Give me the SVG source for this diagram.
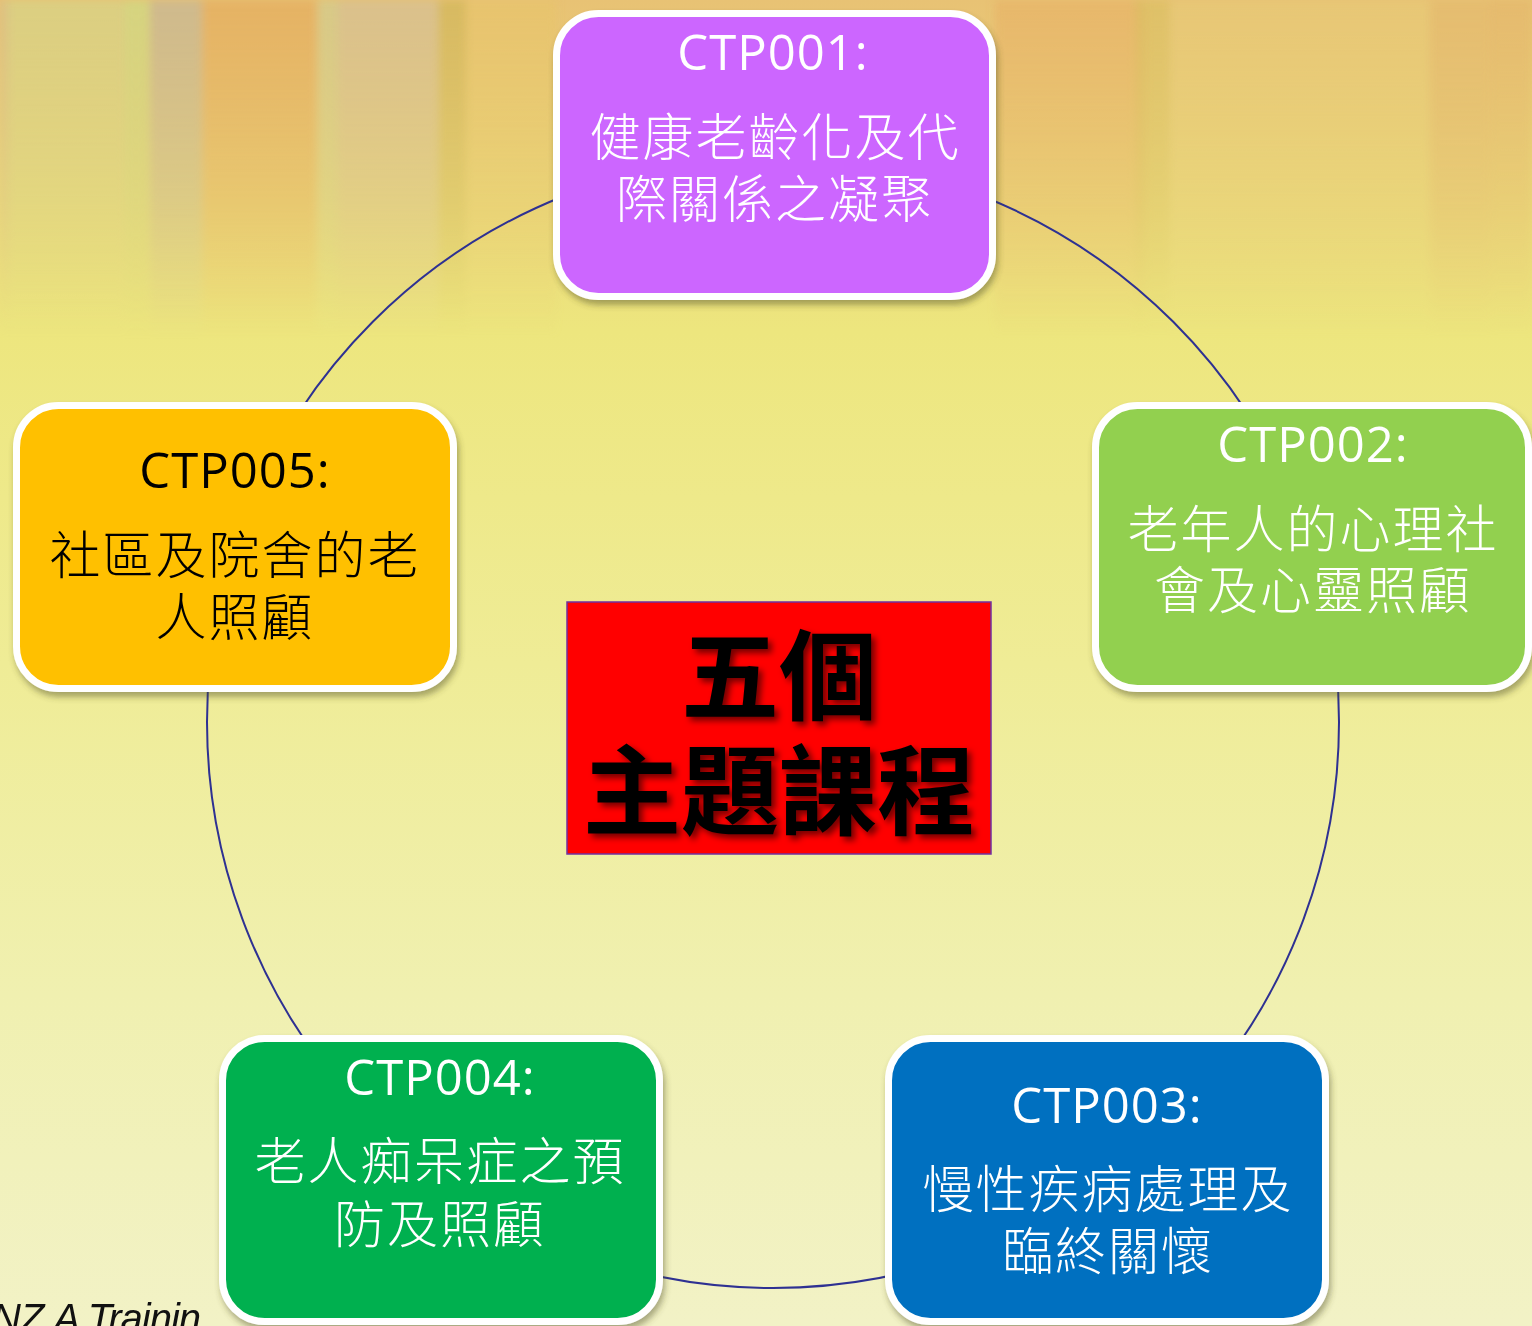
<svg xmlns="http://www.w3.org/2000/svg" width="1532" height="1326" viewBox="0 0 1532 1326">
<defs>
<linearGradient id="bg" x1="0" y1="0" x2="0" y2="1">
<stop offset="0" stop-color="#E8C274"/>
<stop offset="0.12" stop-color="#EAD47A"/>
<stop offset="0.25" stop-color="#EDE67E"/>
<stop offset="0.5" stop-color="#EFEC96"/>
<stop offset="0.75" stop-color="#F0F0B0"/>
<stop offset="1" stop-color="#F2F2C6"/>
</linearGradient>
<linearGradient id="fade" x1="0" y1="0" x2="0" y2="1">
<stop offset="0" stop-color="#fff" stop-opacity="1"/>
<stop offset="0.6" stop-color="#fff" stop-opacity="0.5"/>
<stop offset="1" stop-color="#fff" stop-opacity="0"/>
</linearGradient>
<mask id="fm"><rect x="0" y="0" width="1532" height="340" fill="url(#fade)"/></mask>
<filter id="sh" x="-10%" y="-10%" width="120%" height="125%">
<feDropShadow dx="2" dy="5" stdDeviation="3" flood-color="#4a4a20" flood-opacity="0.45"/>
</filter>
<filter id="tsh" x="-10%" y="-10%" width="125%" height="125%">
<feDropShadow dx="4" dy="4" stdDeviation="3" flood-color="#000" flood-opacity="0.55"/>
</filter>
<filter id="blur"><feGaussianBlur stdDeviation="4"/></filter>
</defs>
<style>
.box{stroke:#fff;stroke-width:7;filter:url(#sh)}
.code{font-family:"Open Sans","Noto Sans",sans-serif;font-weight:400;font-size:49px;text-anchor:middle;letter-spacing:1px}
.zh{font-family:"Noto Sans CJK TC","Noto Sans CJK SC",sans-serif;font-weight:300;font-size:51px;text-anchor:middle;letter-spacing:2px}
.w{fill:#fff}
.k{fill:#000}
.title{font-family:"Noto Sans CJK TC","Noto Sans CJK SC",serif;font-weight:700;font-size:98px;text-anchor:middle;fill:#000;filter:url(#tsh)}
.conn{fill:none;stroke:#2E3192;stroke-width:2}
</style>

<!-- background -->
<rect x="0" y="0" width="1532" height="1326" fill="url(#bg)"/>
<g mask="url(#fm)" filter="url(#blur)">
<rect x="0" y="0" width="8" height="340" fill="#D8C08A" opacity="0.8"/>
<rect x="8" y="0" width="140" height="340" fill="#D6D488" opacity="0.7"/>
<rect x="125" y="0" width="25" height="340" fill="#D2D880" opacity="0.6"/>
<rect x="150" y="0" width="52" height="340" fill="#C8B894" opacity="0.8"/>
<rect x="202" y="0" width="115" height="340" fill="#E4AE60" opacity="0.75"/>
<rect x="318" y="0" width="20" height="340" fill="#D0CC90" opacity="0.7"/>
<rect x="338" y="0" width="100" height="340" fill="#D6C094" opacity="0.75"/>
<rect x="438" y="0" width="28" height="340" fill="#D0B658" opacity="0.7"/>
<rect x="466" y="0" width="90" height="340" fill="#E8C46A" opacity="0.6"/>
<rect x="995" y="0" width="150" height="340" fill="#E8B066" opacity="0.6"/>
<rect x="1135" y="0" width="35" height="340" fill="#D8C060" opacity="0.6"/>
<rect x="1170" y="0" width="320" height="340" fill="#E8CC78" opacity="0.5"/>
<rect x="1430" y="0" width="102" height="340" fill="#E4B46A" opacity="0.55"/>
</g>

<!-- background caption -->
<text x="-8" y="1332" font-family="Liberation Sans, sans-serif" font-style="italic" font-size="40" fill="#111" letter-spacing="-1">NZ.A Trainin</text>

<!-- connectors -->
<g id="connectors">
<circle class="conn" cx="773" cy="722" r="566"/>
</g>

<!-- center -->
<g id="center">
<rect x="567" y="602" width="424" height="252" fill="#FF0000" stroke="#7030A0" stroke-width="1.5"/>
<text class="title" x="779" y="712">五個</text>
<text class="title" x="779" y="827">主題課程</text>
</g>

<g id="ctp001">
<rect class="box" x="556.5" y="13.5" width="436" height="283" rx="42" fill="#CC66FF"/>
<text class="code w" x="773" y="70">CTP001:</text>
<text class="zh w" x="775" y="156">健康老齡化及代</text>
<text class="zh w" x="775" y="218">際關係之凝聚</text>
</g>

<g id="ctp002">
<rect class="box" x="1095.5" y="405.5" width="433" height="283" rx="42" fill="#92D050"/>
<text class="code w" x="1313" y="462">CTP002:</text>
<text class="zh w" x="1313" y="548">老年人的心理社</text>
<text class="zh w" x="1313" y="609">會及心靈照顧</text>
</g>

<g id="ctp003">
<rect class="box" x="888.5" y="1038.5" width="437" height="283" rx="42" fill="#0070C0"/>
<text class="code w" x="1107" y="1123">CTP003:</text>
<text class="zh w" x="1108" y="1208">慢性疾病處理及</text>
<text class="zh w" x="1108" y="1270">臨終關懷</text>
</g>

<g id="ctp004">
<rect class="box" x="222.5" y="1038.5" width="437" height="283" rx="42" fill="#00B050"/>
<text class="code w" x="440" y="1095">CTP004:</text>
<text class="zh w" x="440" y="1180">老人痴呆症之預</text>
<text class="zh w" x="440" y="1243">防及照顧</text>
</g>

<g id="ctp005">
<rect class="box" x="16.5" y="405.5" width="437" height="283" rx="42" fill="#FFC000"/>
<text class="code k" x="235" y="488">CTP005:</text>
<text class="zh k" x="235" y="574">社區及院舍的老</text>
<text class="zh k" x="235" y="636">人照顧</text>
</g>
</svg>
